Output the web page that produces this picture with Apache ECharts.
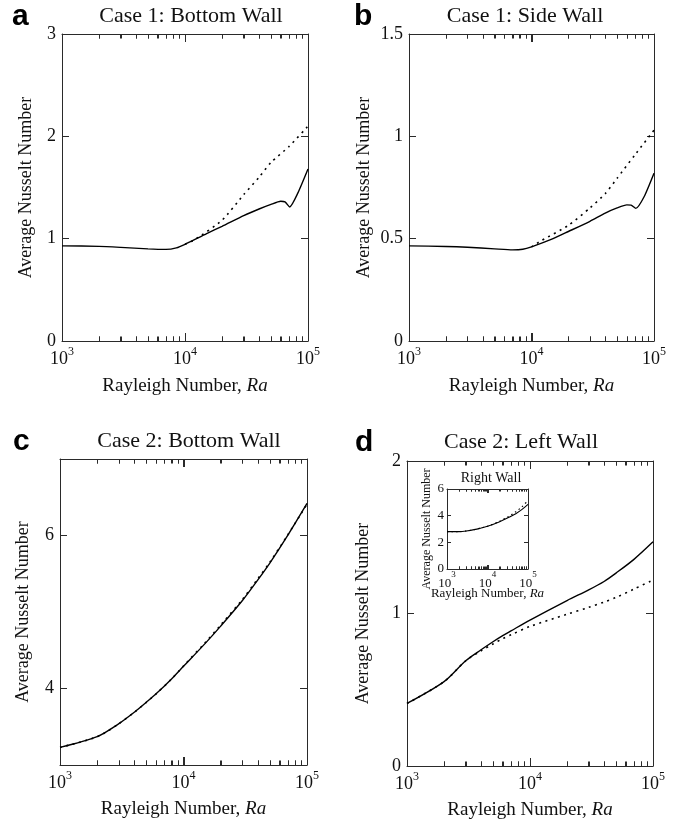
<!DOCTYPE html>
<html>
<head>
<meta charset="utf-8">
<title>Average Nusselt Number vs Rayleigh Number</title>
<script src="https://cdn.jsdelivr.net/npm/echarts@6/dist/echarts.min.js"></script>
<style>
  html, body { margin: 0; padding: 0; background: #fff; }
  #chart { width: 677px; height: 824px; }
</style>
</head>
<body>
<div id="chart"></div>
<script>
// ---- Data -------------------------------------------------------------

// Case 1 (solid = full solution, dotted = reference solution)
const raCase1 = [1000, 2000, 3000, 5000, 7000, 8500, 10000, 15000, 20000, 30000, 40000, 50000, 60000, 65000, 71000, 83000, 100000];
const raCase1Dotted = [10000, 12000, 20000, 30000, 40000, 50000, 70000, 100000];

const nuBottom1Solid = [0.93, 0.925, 0.915, 0.90, 0.895, 0.91, 0.945, 1.05, 1.12, 1.225, 1.29, 1.335, 1.365, 1.36, 1.31, 1.45, 1.68];
const nuBottom1Dotted = [0.945, 0.99, 1.18, 1.43, 1.60, 1.745, 1.90, 2.10];

const nuSide1Solid = [0.465, 0.462, 0.458, 0.45, 0.445, 0.448, 0.46, 0.50, 0.535, 0.585, 0.625, 0.65, 0.665, 0.664, 0.648, 0.705, 0.82];
const nuSide1Dotted = [0.46, 0.49, 0.565, 0.65, 0.72, 0.795, 0.91, 1.03];

// Case 2
const raCase2Bottom = [1000, 2000, 3000, 4000, 5000, 6000, 8000, 10000, 15000, 20000, 30000, 40000, 50000, 70000, 100000];
const nuBottom2Solid = [3.23, 3.37, 3.54, 3.69, 3.82, 3.93, 4.125, 4.29, 4.59, 4.815, 5.15, 5.42, 5.64, 6.005, 6.42];
const nuBottom2Dotted = [3.23, 3.37, 3.54, 3.69, 3.82, 3.93, 4.125, 4.295, 4.60, 4.83, 5.165, 5.435, 5.65, 6.01, 6.41];

const raCase2Left = [1000, 2000, 3000, 4000, 5000, 6000, 7000, 10000, 20000, 30000, 40000, 50000, 70000, 100000];
const nuLeft2Solid = [0.41, 0.553, 0.69, 0.762, 0.815, 0.855, 0.886, 0.957, 1.085, 1.155, 1.21, 1.265, 1.355, 1.47];
const nuLeft2Dotted = [0.41, 0.553, 0.69, 0.755, 0.80, 0.835, 0.86, 0.915, 0.995, 1.04, 1.075, 1.105, 1.16, 1.22];

const raCase2Right = [1000, 2000, 3000, 5000, 7000, 10000, 20000, 30000, 50000, 70000, 100000];
const nuRight2Solid = [2.8, 2.8, 2.85, 2.97, 3.08, 3.2, 3.55, 3.8, 4.15, 4.45, 4.85];
const nuRight2Dotted = [2.8, 2.8, 2.85, 2.97, 3.08, 3.2, 3.58, 3.86, 4.3, 4.65, 5.15];

// Tick values
const raMajorTicks = [1000, 10000, 100000];
const raMinorTicks = [2000, 3000, 4000, 5000, 6000, 7000, 8000, 9000,
                      20000, 30000, 40000, 50000, 60000, 70000, 80000, 90000];
const yTicksBottom1 = [0, 1, 2, 3];
const yTicksSide1 = [0, 0.5, 1, 1.5];
const yTicksBottom2 = [4, 6];
const yTicksLeft2 = [0, 1, 2];
const yTicksRight2 = [0, 2, 4, 6];

// Panel texts
const panelLetters = ['a', 'b', 'c', 'd'];
const panelTitles = ['Case 1: Bottom Wall', 'Case 1: Side Wall', 'Case 2: Bottom Wall', 'Case 2: Left Wall'];
const insetTitle = 'Right Wall';
const yName = 'Average Nusselt Number';
const xName = 'Rayleigh Number, {i|Ra}';

// ---- Styling ------------------------------------------------------------
const SERIF = '"Liberation Serif", "Times New Roman", Times, serif';
const SANS = '"Liberation Sans", Arial, Helvetica, sans-serif';
const FRAME = '#2a2a2a';
const INK = '#111';

const bigStyle = { fs: 18, sup: 12, bLH: 22, sLH: 12, major: 8, minor: 4.5, yTick: 7,
                   yNameFs: 18, xNameFs: 19, labelMargin: 5, yLabelMargin: 6 };
const smallStyle = { fs: 13, sup: 9, bLH: 20, sLH: 9, major: 4, minor: 2.5, yTick: 4,
                     yNameFs: 12, xNameFs: 13, labelMargin: 1.5, yLabelMargin: 3 };

// xNameY: vertical centre of the x-axis title
const panels = [
  { box: { left: 62, top: 34, width: 246, height: 307 }, s: bigStyle,
    ra: raCase1, solid: nuBottom1Solid, raDot: raCase1Dotted, dotted: nuBottom1Dotted,
    yMin: 0, yMax: 3, yTicks: yTicksBottom1, yGap: 27, xNameY: 386, smooth: 0.2 },
  { box: { left: 409, top: 34, width: 245, height: 307 }, s: bigStyle,
    ra: raCase1, solid: nuSide1Solid, raDot: raCase1Dotted, dotted: nuSide1Dotted,
    yMin: 0, yMax: 1.5, yTicks: yTicksSide1, yGap: 36, xNameY: 386, smooth: 0.2 },
  { box: { left: 60, top: 459, width: 247, height: 306 }, s: bigStyle,
    ra: raCase2Bottom, solid: nuBottom2Solid, raDot: raCase2Bottom, dotted: nuBottom2Dotted,
    yMin: 3, yMax: 7, yTicks: yTicksBottom2, yGap: 28, xNameY: 809, smooth: 0.3 },
  { box: { left: 407, top: 461, width: 246, height: 305 }, s: bigStyle,
    ra: raCase2Left, solid: nuLeft2Solid, raDot: raCase2Left, dotted: nuLeft2Dotted,
    yMin: 0, yMax: 2, yTicks: yTicksLeft2, yGap: 35, xNameY: 810, smooth: 0.3 },
  { box: { left: 447, top: 489, width: 81, height: 80 }, s: smallStyle, inset: true,
    ra: raCase2Right, solid: nuRight2Solid, raDot: raCase2Right, dotted: nuRight2Dotted,
    yMin: 0, yMax: 6, yTicks: yTicksRight2, yGap: 14, xNameY: 593.5, smooth: 0.3 }
];

// ---- Option building ---------------------------------------------------
const grids = [], xAxes = [], yAxes = [], series = [], graphics = [];
const minorExp = raMinorTicks.map(v => Math.log10(v));
// Each Ra tick: [Ra, 1 for a decade, 0 for a minor tick]
const raTickData = raMajorTicks.map(r => [r, 1]).concat(raMinorTicks.map(r => [r, 0]));
const NO_LINE = { show: false, onZero: false };

function frameLine() { return { show: true, onZero: false, lineStyle: { color: FRAME, width: 1 } }; }
function tick(len) { return { show: true, inside: true, length: len, lineStyle: { color: FRAME, width: 1 } }; }

function decadeLabel(v) {
  return '{b|10}{s|' + Math.round(Math.log10(v)) + '}';
}

function addGrid(box, extra) {
  grids.push(Object.assign({}, box, {
    show: false, backgroundColor: 'transparent', borderWidth: 0,
    containLabel: false, outerBoundsMode: 'none'
  }, extra || {}));
  return grids.length - 1;
}

// Inward Ra ticks on the bottom and top edges, drawn by a custom series
// through the panel's own axes.
function raTickSeries(xIdx, yIdx, p) {
  const s = p.s;
  return {
    type: 'custom', xAxisIndex: xIdx, yAxisIndex: yIdx, silent: true, clip: false, z: 10,
    encode: { x: 0 },
    data: raTickData,
    renderItem: (params, api) => {
      const ra = api.value(0);
      const len = api.value(1) ? s.major : s.minor;
      const bot = api.coord([ra, p.yMin]);
      const top = api.coord([ra, p.yMax]);
      const x = Math.round(bot[0]) + 0.5;
      const st = { stroke: FRAME, lineWidth: 1 };
      return {
        type: 'group',
        children: [
          { type: 'line', z2: 10, shape: { x1: x, y1: bot[1], x2: x, y2: bot[1] - len }, style: st },
          { type: 'line', z2: 10, shape: { x1: x, y1: top[1], x2: x, y2: top[1] + len }, style: st }
        ]
      };
    }
  };
}

// The same ticks as axis ticks, in an overlay grid of the same size
function addRaTickAxes(box, s) {
  const g = addGrid(box);
  ['bottom', 'top'].forEach(pos => {
    xAxes.push({
      gridIndex: g, type: 'log', logBase: 10, min: 1000, max: 100000, position: pos, z: 6,
      axisLine: NO_LINE, axisTick: tick(s.major),
      axisLabel: { show: false }, splitLine: { show: false }
    });
    xAxes.push({
      gridIndex: g, type: 'value', min: 3, max: 5, position: pos, z: 6,
      axisLine: NO_LINE,
      axisTick: Object.assign(tick(s.minor), { customValues: minorExp }),
      axisLabel: { show: false }, splitLine: { show: false }
    });
  });
  yAxes.push({
    gridIndex: g, type: 'value', min: 1, max: 2, show: false,
    axisLine: NO_LINE, axisTick: { show: false }, axisLabel: { show: false }, splitLine: { show: false }
  });
}

panels.forEach(p => {
  const s = p.s;
  const g = addGrid(p.box, p.inset ? { show: true, backgroundColor: '#fff' } : null);

  // Bottom log axis: frame line and decade labels
  const xMain = xAxes.length;
  xAxes.push({
    gridIndex: g, type: 'log', logBase: 10, min: 1000, max: 100000, position: 'bottom',
    axisLine: frameLine(),
    axisTick: { show: false },
    axisLabel: {
      show: true, margin: s.labelMargin, formatter: decadeLabel, color: INK,
      rich: {
        b: { fontSize: s.fs, fontFamily: SERIF, color: INK, lineHeight: s.bLH, verticalAlign: 'bottom' },
        s: { fontSize: s.sup, fontFamily: SERIF, color: INK, lineHeight: s.sLH, verticalAlign: 'top' }
      }
    },
    splitLine: { show: false }
  });
  // Top frame line
  xAxes.push({
    gridIndex: g, type: 'log', logBase: 10, min: 1000, max: 100000, position: 'top',
    axisLine: frameLine(), axisTick: { show: false },
    axisLabel: { show: false }, splitLine: { show: false }
  });

  // Left value axis with labels and name
  const yMain = yAxes.length;
  yAxes.push({
    gridIndex: g, type: 'value', min: p.yMin, max: p.yMax, position: 'left',
    axisLine: frameLine(),
    axisTick: Object.assign(tick(s.yTick), { customValues: p.yTicks }),
    axisLabel: { show: true, customValues: p.yTicks, margin: s.yLabelMargin,
                 fontSize: s.fs, fontFamily: SERIF, color: INK },
    splitLine: { show: false },
    name: yName, nameLocation: 'middle', nameRotate: 90, nameGap: p.yGap,
    nameTextStyle: { fontSize: s.yNameFs, fontFamily: SERIF, color: INK }
  });
  // Right frame with mirrored ticks
  yAxes.push({
    gridIndex: g, type: 'value', min: p.yMin, max: p.yMax, position: 'right',
    axisLine: frameLine(),
    axisTick: Object.assign(tick(s.yTick), { customValues: p.yTicks }),
    axisLabel: { show: false }, splitLine: { show: false }
  });

  addRaTickAxes(p.box, s);

  // x-axis title (Ra in italics), centred under the plot box
  graphics.push({
    type: 'text', silent: true, z: 10,
    x: p.box.left + p.box.width / 2, y: p.xNameY,
    style: {
      text: xName, fontSize: s.xNameFs, fontFamily: SERIF, fill: INK,
      align: 'center', verticalAlign: 'middle', textAlign: 'center', textVerticalAlign: 'middle',
      rich: { i: { fontSize: s.xNameFs, fontFamily: SERIF, fontStyle: 'italic', fill: INK } }
    }
  });

  series.push({
    type: 'line', xAxisIndex: xMain, yAxisIndex: yMain,
    data: p.raDot.map((r, i) => [r, p.dotted[i]]),
    showSymbol: false, smooth: p.smooth, silent: true, z: 3,
    lineStyle: { color: '#000', width: p.inset ? 1.2 : 1.6, type: p.inset ? [1.5, 3] : [2, 4.5] }
  });
  series.push({
    type: 'line', xAxisIndex: xMain, yAxisIndex: yMain,
    data: p.ra.map((r, i) => [r, p.solid[i]]),
    showSymbol: false, smooth: p.smooth, silent: true, z: 4,
    lineStyle: { color: '#000', width: p.inset ? 1.1 : 1.4, type: 'solid' }
  });
  series.push(raTickSeries(xMain, yMain, p));
});

// Panel letters and titles
const letterPos = [[12, 17], [354, 17], [13, 442], [355, 443]];
const titlePos = [[191, 16], [525, 16], [189, 441], [521, 442]];
panelLetters.forEach((t, i) => {
  graphics.push({
    type: 'text', x: letterPos[i][0], y: letterPos[i][1], silent: true,
    style: { text: t, fontSize: 30, fontWeight: 'bold', fontFamily: SANS, fill: '#000',
             align: 'left', verticalAlign: 'middle', textAlign: 'left', textVerticalAlign: 'middle' }
  });
});
panelTitles.forEach((t, i) => {
  graphics.push({
    type: 'text', x: titlePos[i][0], y: titlePos[i][1], silent: true,
    style: { text: t, fontSize: 22, fontFamily: SERIF, fill: INK,
             align: 'center', verticalAlign: 'middle', textAlign: 'center', textVerticalAlign: 'middle' }
  });
});
graphics.push({
  type: 'text', x: 491, y: 478, silent: true, z: 10,
  style: { text: insetTitle, fontSize: 14, fontFamily: SERIF, fill: INK,
           align: 'center', verticalAlign: 'middle', textAlign: 'center', textVerticalAlign: 'middle' }
});

const chart = echarts.init(document.getElementById('chart'), null, { renderer: 'canvas' });
chart.setOption({
  backgroundColor: '#fff',
  animation: false,
  grid: grids,
  xAxis: xAxes,
  yAxis: yAxes,
  series: series,
  graphic: graphics
});
</script>
</body>
</html>
